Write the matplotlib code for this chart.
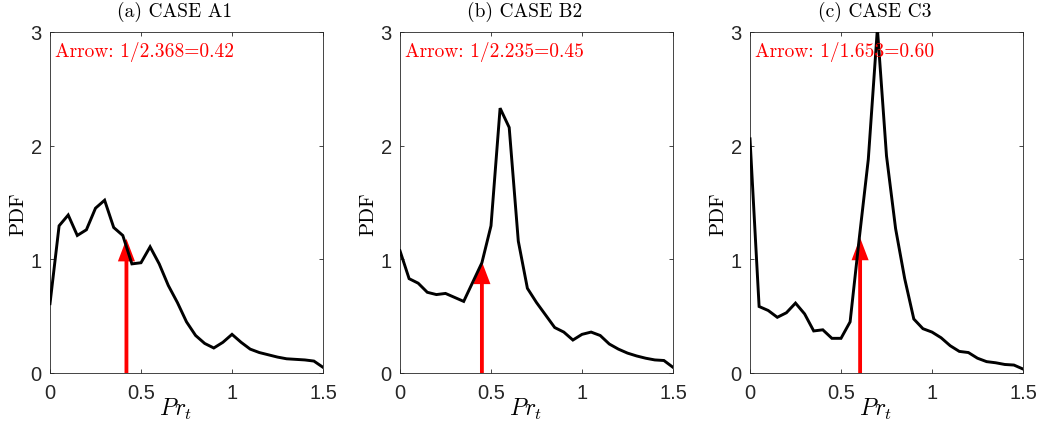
import numpy as np
import matplotlib
matplotlib.use("Agg")
import matplotlib.pyplot as plt

plt.rcParams['mathtext.fontset'] = 'cm'

pr_t = [0.00, 0.05, 0.10, 0.15, 0.20, 0.25, 0.30, 0.35, 0.40, 0.45, 0.50,
        0.55, 0.60, 0.65, 0.70, 0.75, 0.80, 0.85, 0.90, 0.95, 1.00,
        1.05, 1.10, 1.15, 1.20, 1.25, 1.30, 1.35, 1.40, 1.45, 1.50]

pdf_a1 = [0.61, 1.295, 1.39, 1.21, 1.26, 1.45, 1.52, 1.28, 1.21, 0.96, 0.97,
          1.11, 0.96, 0.77, 0.62, 0.45, 0.33, 0.26, 0.22, 0.27, 0.34,
          0.27, 0.21, 0.18, 0.16, 0.14, 0.125, 0.12, 0.115, 0.105, 0.05]

pdf_b2 = [1.075, 0.83, 0.79, 0.71, 0.69, 0.70, 0.665, 0.63, 0.80, 0.97, 1.295,
          2.33, 2.16, 1.16, 0.745, 0.62, 0.51, 0.40, 0.36, 0.29, 0.34,
          0.36, 0.33, 0.255, 0.21, 0.175, 0.15, 0.13, 0.115, 0.11, 0.05]

pdf_c3 = [2.06, 0.585, 0.55, 0.49, 0.53, 0.615, 0.52, 0.37, 0.38, 0.305, 0.305,
          0.45, 1.18, 1.88, 3.03, 1.91, 1.27, 0.83, 0.475, 0.39, 0.36,
          0.31, 0.24, 0.19, 0.18, 0.13, 0.10, 0.09, 0.075, 0.07, 0.035]

titles = ['(a) CASE A1', '(b) CASE B2', '(c) CASE C3']
labels = ['Arrow: 1/2.368=0.42', 'Arrow: 1/2.235=0.45', 'Arrow: 1/1.653=0.60']
arrow_x = [0.42, 0.45, 0.605]
arrow_tip = [1.18, 0.98, 1.19]
series = [pdf_a1, pdf_b2, pdf_c3]

W, H = 1045, 431
fig = plt.figure(figsize=(W / 100, H / 100), dpi=100)

lefts = [50, 400, 750]
axw, axh = 273, 341
bottom_px = 374
axc = '#262626'

for i in range(3):
    ax = fig.add_axes([lefts[i] / W, (H - bottom_px) / H, axw / W, axh / H])
    ax.plot(pr_t, series[i], color='black', lw=2.1, solid_joinstyle='miter',
            zorder=3)
    ax.set_xlim(0, 1.5)
    ax.set_ylim(0, 3)
    ax.set_xticks([0, 0.5, 1, 1.5])
    ax.set_xticklabels(['0', '0.5', '1', '1.5'])
    ax.set_yticks([0, 1, 2, 3])
    ax.tick_params(direction='in', length=3, width=0.6, top=True, right=True,
                   colors=axc, labelsize=14.5, labelcolor=axc)
    ax.tick_params(axis='x', pad=7)
    ax.tick_params(axis='y', pad=6)
    for lab in ax.get_xticklabels() + ax.get_yticklabels():
        lab.set_fontfamily('Liberation Sans')
    for s in ax.spines.values():
        s.set_color(axc)
        s.set_linewidth(0.6)
    ax.arrow(arrow_x[i], 0, 0, arrow_tip[i], width=0.021, head_width=0.094,
             head_length=0.198, length_includes_head=True, color='red', lw=0,
             zorder=2)
    ax.text(0.018, 0.9296, labels[i], transform=ax.transAxes, color='red',
            fontfamily='cmr10', fontsize=14, va='baseline', ha='left')
    ax.text(0.458, 1.047, titles[i], transform=ax.transAxes, color='black',
            fontfamily='cmr10', fontsize=14, va='baseline', ha='center')
    ax.set_xlabel(r'$Pr_t$', fontsize=17)
    ax.xaxis.set_label_coords(0.4615, -0.068)
    ax.set_ylabel('PDF', fontfamily='cmr10', fontsize=15)
    ax.yaxis.set_label_coords(-0.085, 0.468)

fig.savefig('out.png', dpi=100)
